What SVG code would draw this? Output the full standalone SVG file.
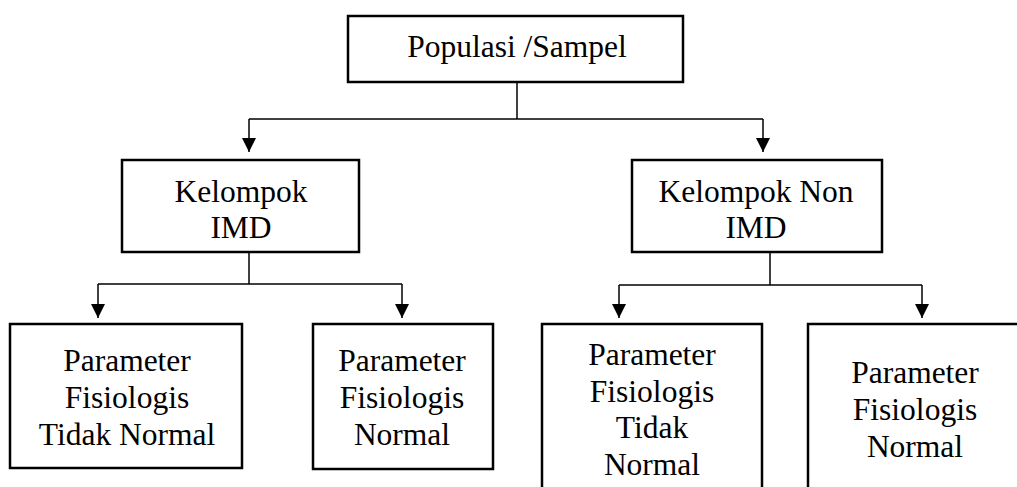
<svg xmlns="http://www.w3.org/2000/svg" width="1017" height="487" viewBox="0 0 1017 487">
<style>
.box{fill:#fff;stroke:#000;stroke-width:2.5}
.open{fill:none;stroke:#000;stroke-width:2.5}
.con{fill:none;stroke:#000;stroke-width:1.5}
text{font-family:'Liberation Serif','Times New Roman',serif;font-size:31.5px;fill:#000;text-anchor:middle}
</style>
<defs>
<marker id="ah" markerUnits="userSpaceOnUse" markerWidth="14" markerHeight="15" refX="14" refY="7" orient="auto" viewBox="0 0 14 14">
<path d="M0,0 L14,7 L0,14 Z" fill="#000"/>
</marker>
</defs>
<rect width="1017" height="487" fill="#fff"/>
<g id="connectors">
<path class="con" d="M517,82 V119"/>
<path class="con" d="M249,119 H763"/>
<path class="con" d="M249,119 V152" marker-end="url(#ah)"/>
<path class="con" d="M763,119 V152" marker-end="url(#ah)"/>
<path class="con" d="M249,252 V284"/>
<path class="con" d="M98,284 H402"/>
<path class="con" d="M98,284 V318" marker-end="url(#ah)"/>
<path class="con" d="M402,284 V318" marker-end="url(#ah)"/>
<path class="con" d="M770,252 V285"/>
<path class="con" d="M619,285 H922"/>
<path class="con" d="M619,285 V318" marker-end="url(#ah)"/>
<path class="con" d="M922,285 V318" marker-end="url(#ah)"/>
</g>
<g id="n-populasi">
<rect class="box" x="348" y="16" width="335" height="66"/>
<text x="517" y="57">Populasi /Sampel</text>
</g>
<g id="n-imd">
<rect class="box" x="122" y="160" width="237" height="92"/>
<text x="241" y="202">Kelompok</text>
<text x="241" y="238">IMD</text>
</g>
<g id="n-nonimd">
<rect class="box" x="632" y="160" width="250" height="92"/>
<text x="756" y="202">Kelompok Non</text>
<text x="756" y="238">IMD</text>
</g>
<g id="n-imd-tidak">
<rect class="box" x="10" y="324" width="232" height="144"/>
<text x="127" y="371">Parameter</text>
<text x="127" y="408">Fisiologis</text>
<text x="127" y="445">Tidak Normal</text>
</g>
<g id="n-imd-normal">
<rect class="box" x="313" y="324" width="180" height="145"/>
<text x="402" y="371">Parameter</text>
<text x="402" y="408">Fisiologis</text>
<text x="402" y="445">Normal</text>
</g>
<g id="n-non-tidak">
<path class="open" d="M542,490 V324 H762 V490"/>
<text x="652" y="365">Parameter</text>
<text x="652" y="402">Fisiologis</text>
<text x="652" y="438">Tidak</text>
<text x="652" y="475">Normal</text>
</g>
<g id="n-non-normal">
<path class="open" d="M808,490 V324 H1020"/>
<text x="915" y="383">Parameter</text>
<text x="915" y="420">Fisiologis</text>
<text x="915" y="457">Normal</text>
</g>
</svg>
